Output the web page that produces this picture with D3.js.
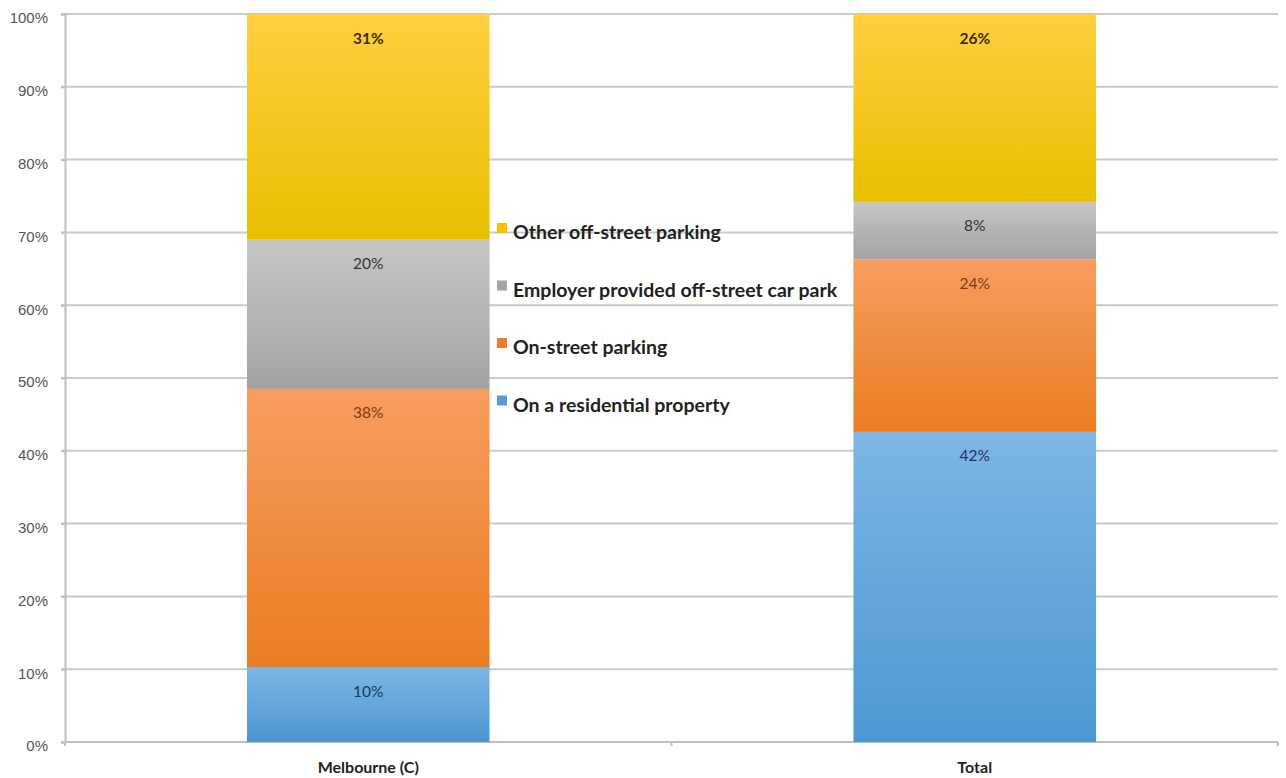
<!DOCTYPE html>
<html>
<head>
<meta charset="utf-8">
<script src="https://cdn.jsdelivr.net/npm/d3@7"></script>
<style>
  body { margin: 0; background: #fff; }
  svg { display: block; font-family: Lato, "Open Sans", sans-serif; }
</style>
</head>
<body>
<div id="chart"></div>
<script>
// categories and series (percent)
const categories = ["Melbourne (C)", "Total"];
const seriesNames = ["On a residential property", "On-street parking", "Employer provided off-street car park", "Other off-street parking"];
const residential = [10.3, 42.6];
const onStreet = [38.2, 23.7];
const employer = [20.5, 7.9];
const otherOff = [31.0, 25.8];
const valueLabels = [["10%", "42%"], ["38%", "24%"], ["20%", "8%"], ["31%", "26%"]];
const yTicks = [0, 10, 20, 30, 40, 50, 60, 70, 80, 90, 100];

// colours: [top of gradient, bottom of gradient, label colour, legend]
const colors = [
  ["#7db6e4", "#4b97d2", "#1c355e", "#5b9bd5"],
  ["#f79d5f", "#e97d22", "#7f3a0e", "#ed7d31"],
  ["#c6c6c6", "#a3a3a3", "#333333", "#a5a5a5"],
  ["#ffcf40", "#e8bf00", "#3d2c00", "#ffc000"]
];

const w = 1286, h = 778;
const padL = 65, padR = 1278, padT = 14, padB = 742;

const rows = categories.map((c, i) => ({
  cat: c, s0: residential[i], s1: onStreet[i], s2: employer[i], s3: otherOff[i]
}));
const stack = d3.stack().keys(["s0", "s1", "s2", "s3"]);
const stacked = stack(rows);

const x = d3.scaleBand().domain(categories).range([padL, padR]).paddingInner(0).paddingOuter(0);
const y = d3.scaleLinear().domain([0, 100]).range([padB, padT]);
const barW = x.bandwidth() * 0.4;

const svg = d3.select("#chart").append("svg").attr("width", w).attr("height", h);

const defs = svg.append("defs");
colors.forEach((c, i) => {
  const g = defs.append("linearGradient").attr("id", "grad" + i)
    .attr("x1", 0).attr("y1", 0).attr("x2", 0).attr("y2", 1);
  g.append("stop").attr("offset", "0%").attr("stop-color", c[0]);
  g.append("stop").attr("offset", "100%").attr("stop-color", c[1]);
});

// gridlines
svg.append("g").selectAll("line").data(yTicks.filter(d => d > 0)).join("line")
  .attr("x1", padL - 4).attr("x2", padR)
  .attr("y1", d => y(d)).attr("y2", d => y(d))
  .attr("stroke", "#cacaca").attr("stroke-width", 2);

// y axis
const yAxis = d3.axisLeft(y).tickValues(yTicks).tickFormat(d => d + "%").tickSize(4).tickPadding(13);
const ya = svg.append("g").attr("transform", "translate(" + padL + ",0)").call(yAxis);
ya.select(".domain").attr("stroke", "#c0c0c0").attr("stroke-width", 2);
ya.selectAll(".tick line").attr("stroke", "#c0c0c0").attr("stroke-width", 2);
ya.selectAll("text").attr("fill", "#555").attr("y", 4).style("font-size", "15px");

// x axis
const xa = svg.append("g").attr("transform", "translate(0," + padB + ")");
xa.append("line").attr("x1", padL).attr("x2", padR).attr("stroke", "#c0c0c0").attr("stroke-width", 2);
xa.selectAll(".tk").data([padL, padL + x.bandwidth(), padR]).join("line")
  .attr("class", "tk")
  .attr("x1", d => d).attr("x2", d => d).attr("y1", 0).attr("y2", 4)
  .attr("stroke", "#c0c0c0").attr("stroke-width", 2);
xa.selectAll(".lbl").data(categories).join("text")
  .attr("class", "lbl")
  .attr("x", d => x(d) + x.bandwidth() / 2).attr("y", 31)
  .attr("text-anchor", "middle").attr("font-weight", "bold")
  .attr("fill", "#222").style("font-size", "16px").text(d => d);

// bars
stacked.forEach((layer, i) => {
  const g = svg.append("g");
  g.selectAll("rect").data(layer).join("rect")
    .attr("x", d => x(d.data.cat) + (x.bandwidth() - barW) / 2)
    .attr("width", barW)
    .attr("y", d => y(d[1]))
    .attr("height", d => y(d[0]) - y(d[1]))
    .attr("fill", "url(#grad" + i + ")");
  g.selectAll("text").data(layer).join("text")
    .attr("x", d => x(d.data.cat) + x.bandwidth() / 2)
    .attr("y", d => y(d[1]) + 29.5)
    .attr("text-anchor", "middle")
    .attr("font-weight", i === 3 ? "bold" : "normal")
    .attr("fill", colors[i][2])
    .style("font-size", "15.5px")
    .text((d, j) => valueLabels[i][j]);
});

// legend (top entry is the last series)
const legend = svg.append("g").attr("transform", "translate(497,231)");
const legendOrder = [3, 2, 1, 0];
legendOrder.forEach((si, k) => {
  const row = legend.append("g").attr("transform", "translate(0," + (k * 57.5) + ")");
  row.append("rect").attr("x", 0).attr("y", -8).attr("width", 10).attr("height", 10).attr("fill", colors[si][3]);
  row.append("text").attr("x", 16).attr("y", 8).attr("font-weight", "bold")
    .attr("fill", "#222").style("font-size", "19.5px").text(seriesNames[si]);
});
</script>
</body>
</html>
